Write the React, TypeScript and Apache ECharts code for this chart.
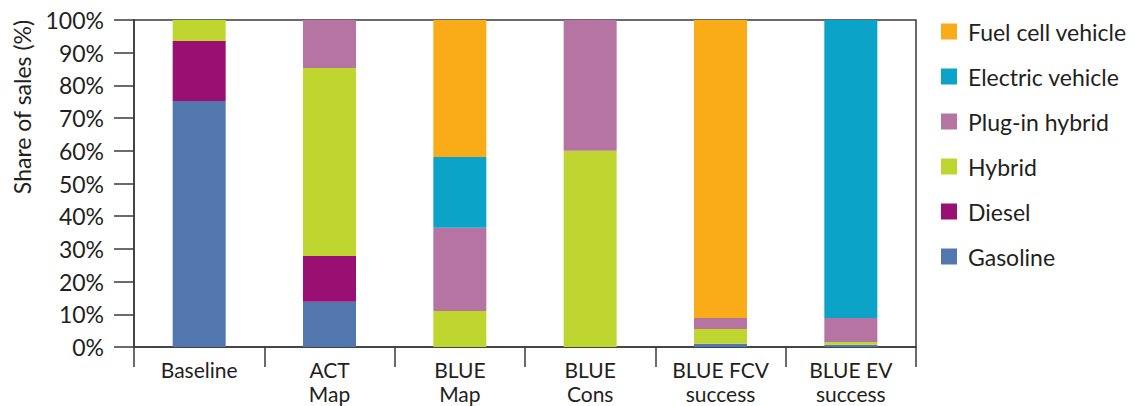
import React, { useEffect, useRef } from "react";
import * as echarts from "echarts";

const categories = ["Baseline", "ACT\nMap", "BLUE\nMap", "BLUE\nCons", "BLUE FCV\nsuccess", "BLUE EV\nsuccess"];
const gasoline = [75.2, 13.8, 0, 0, 1.0, 0.7];
const diesel = [18.4, 14.0, 0, 0, 0, 0];
const hybrid = [6.4, 57.5, 11.0, 60.0, 4.5, 0.8];
const pluginHybrid = [0, 14.7, 25.5, 40.0, 3.4, 7.4];
const electricVehicle = [0, 0, 21.6, 0, 0, 91.1];
const fuelCellVehicle = [0, 0, 41.9, 0, 91.1, 0];
const legendOrder = ["Fuel cell vehicle", "Electric vehicle", "Plug-in hybrid", "Hybrid", "Diesel", "Gasoline"];

const FONT = "Lato";
const FS = 23;
const TEXT = "#231f20";
const AXIS = "#3a3a3a";

export default function App() {
  const ref = useRef<HTMLDivElement>(null);
  useEffect(() => {
    if (!ref.current) return;
    const chart = echarts.init(ref.current, undefined, { renderer: "svg" });
    const mk = (name: string, data: number[], color: string) => ({
      name,
      type: "bar",
      stack: "total",
      data,
      barWidth: 53,
      itemStyle: { color },
    });
    chart.setOption({
      animation: false,
      textStyle: { fontFamily: FONT },
      grid: {
        left: 134,
        right: 219,
        top: 20,
        bottom: 59,
        show: true,
        borderColor: AXIS,
        borderWidth: 1.5,
        containLabel: false,
      },
      legend: {
        orient: "vertical",
        left: 936,
        top: 15,
        icon: "rect",
        itemWidth: 16,
        itemHeight: 16,
        itemGap: 22,
        data: legendOrder,
        textStyle: { fontFamily: FONT, fontSize: FS, color: TEXT, padding: [0, 0, 0, 6] },
      },
      xAxis: {
        type: "category",
        data: categories,
        axisLine: { lineStyle: { color: AXIS, width: 1.5 } },
        axisTick: { show: true, length: 20, lineStyle: { color: AXIS, width: 1.5 } },
        axisLabel: {
          fontFamily: FONT,
          fontSize: 21,
          color: TEXT,
          lineHeight: 24,
          margin: 10,
          interval: 0,
          hideOverlap: false,
        },
      },
      yAxis: {
        type: "value",
        min: 0,
        max: 100,
        interval: 10,
        axisLine: { show: true, lineStyle: { color: AXIS, width: 1.5 } },
        axisTick: { show: true, length: 20, lineStyle: { color: AXIS, width: 1.5 } },
        axisLabel: { fontFamily: FONT, fontSize: FS, color: TEXT, margin: 30, formatter: "{value}%" },
        splitLine: { show: false },
      },
      graphic: [
        {
          type: "text",
          x: 22,
          y: 107,
          rotation: Math.PI / 2,
          style: {
            text: "Share of sales (%)",
            fontFamily: FONT,
            fontSize: FS,
            fill: TEXT,
            textAlign: "center",
            textVerticalAlign: "middle",
          },
        },
      ],
      series: [
        mk("Gasoline", gasoline, "#5277ae"),
        mk("Diesel", diesel, "#990f72"),
        mk("Hybrid", hybrid, "#bed62f"),
        mk("Plug-in hybrid", pluginHybrid, "#b574a2"),
        mk("Electric vehicle", electricVehicle, "#0ba3c7"),
        mk("Fuel cell vehicle", fuelCellVehicle, "#faac18"),
      ],
    });
    return () => chart.dispose();
  }, []);
  return <div ref={ref} style={{ position: "absolute", left: 0, top: 0, width: 1135, height: 406 }} />;
}
